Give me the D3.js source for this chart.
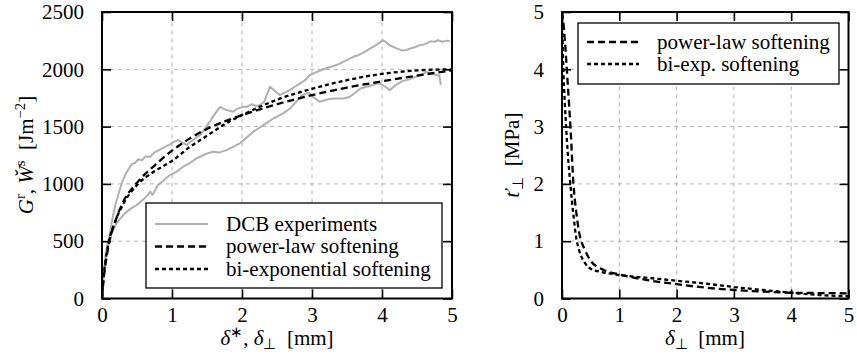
<!DOCTYPE html>
<html>
<head>
<meta charset="utf-8">
<script src="https://cdn.jsdelivr.net/npm/d3@7"></script>
<style>
  body { margin: 0; background: #fff; font-family: "Liberation Serif", serif; }
  svg { display: block; }
</style>
</head>
<body>
<svg id="chart" width="857" height="357"></svg>
<script>
// ---- data ----
var expADelta = [0,0.02,0.05,0.08,0.11,0.15,0.19,0.24,0.29,0.33,0.38,0.43,0.47,0.52,0.57,0.62,0.69,0.75,0.8,0.86,0.9,0.96,1.02,1.09,1.15,1.21,1.27,1.33,1.4,1.47,1.54,1.6,1.66,1.69,1.75,1.81,1.87,1.93,2.0,2.07,2.14,2.2,2.26,2.32,2.4,2.47,2.54,2.6,2.69,2.76,2.83,2.9,2.97,3.02,3.1,3.18,3.26,3.35,3.43,3.51,3.59,3.67,3.75,3.83,3.9,3.96,4.01,4.06,4.11,4.16,4.22,4.28,4.35,4.42,4.48,4.54,4.59,4.65,4.7,4.75,4.8,4.86,4.92,4.97];
var expAG     = [0,200,380,480,560,700,816,920,1020,1077,1130,1175,1182,1215,1205,1240,1237,1275,1290,1310,1324,1340,1365,1383,1360,1339,1370,1395,1426,1480,1543,1600,1650,1673,1650,1640,1630,1655,1670,1673,1695,1680,1688,1720,1848,1810,1775,1795,1820,1850,1877,1905,1950,1965,1985,2005,2020,2037,2060,2085,2109,2125,2150,2182,2205,2230,2255,2235,2210,2196,2180,2165,2168,2185,2195,2211,2215,2230,2245,2240,2255,2240,2250,2246];

var expBDelta = [0,0.02,0.05,0.1,0.14,0.19,0.25,0.33,0.4,0.5,0.58,0.65,0.69,0.72,0.8,0.88,0.97,1.05,1.16,1.25,1.33,1.4,1.5,1.59,1.68,1.78,1.88,1.97,2.06,2.16,2.25,2.32,2.38,2.46,2.54,2.6,2.69,2.78,2.85,2.92,2.97,3.04,3.11,3.18,3.25,3.35,3.45,3.54,3.62,3.69,3.78,3.86,3.92,3.97,4.04,4.11,4.18,4.24,4.3,4.38,4.46,4.54,4.6,4.64,4.7,4.78,4.82,4.84];
var expBG     = [0,180,330,500,570,641,690,745,780,816,860,900,932,903,990,1030,1077,1100,1150,1180,1215,1237,1265,1281,1275,1295,1325,1354,1400,1455,1490,1520,1543,1575,1601,1620,1660,1720,1770,1790,1790,1746,1717,1730,1740,1746,1745,1760,1795,1833,1848,1860,1875,1877,1850,1818,1855,1880,1900,1910,1930,1950,1965,1978,1960,1950,1945,1862];

var leftDelta = [0,0.02,0.05,0.1,0.2,0.3,0.5,0.75,1,1.25,1.5,1.75,2,2.5,3,3.5,4,4.5,5];
var powerLawG = [0,150,300,480,690,840,1010,1160,1290,1395,1480,1545,1600,1695,1775,1840,1895,1945,1990];
var biExpG    = [0,170,330,500,690,820,990,1110,1200,1320,1420,1520,1600,1735,1830,1905,1960,1990,2000];

var rightDelta  = [0,0.02,0.05,0.1,0.15,0.2,0.25,0.3,0.4,0.5,0.7,1,1.5,2,2.5,3,3.5,4,4.5,5];
var powerLawT   = [5,4.85,4.5,3.75,2.95,2.0,1.5,1.15,0.85,0.66,0.51,0.42,0.32,0.25,0.19,0.15,0.12,0.1,0.095,0.09];
var biExpT      = [5,4.1,3.4,2.55,1.95,1.45,1.05,0.84,0.62,0.52,0.46,0.41,0.36,0.31,0.26,0.2,0.15,0.1,0.06,0.04];

var xTicks = [0,1,2,3,4,5];
var leftYTicks = [0,500,1000,1500,2000,2500];
var rightYTicks = [0,1,2,3,4,5];

var leftLegend = ["DCB experiments", "power-law softening", "bi-exponential softening"];
var rightLegend = ["power-law softening", "bi-exp. softening"];

// ---- styles ----
var GRAY = "#b0b0b0";
var LONG = "7,4", SHORT = "4,3";
var FS = 21;
var FONT = "'Liberation Serif', serif";

var svg = d3.select("#chart");

function zip(xs, ys) { return xs.map(function(x, i) { return [x, ys[i]]; }); }

function panel(opt) {
  var x = d3.scaleLinear().domain([0, 5]).range([opt.x0, opt.x1]);
  var y = d3.scaleLinear().domain([0, opt.yMax]).range([298.5, 12]);
  var g = svg.append("g");

  // grid
  g.selectAll(".gx").data(xTicks.slice(1, -1)).enter().append("line")
    .attr("x1", function(d) { return x(d); }).attr("x2", function(d) { return x(d); })
    .attr("y1", y(0)).attr("y2", y(opt.yMax))
    .attr("stroke", GRAY).attr("stroke-width", 1).attr("stroke-dasharray", "4,4");
  g.selectAll(".gy").data(opt.yTicks.slice(1, -1)).enter().append("line")
    .attr("y1", function(d) { return y(d); }).attr("y2", function(d) { return y(d); })
    .attr("x1", x(0)).attr("x2", x(5))
    .attr("stroke", GRAY).attr("stroke-width", 1).attr("stroke-dasharray", "4,4");

  var clipId = "clip" + opt.id;
  svg.append("clipPath").attr("id", clipId).append("rect")
    .attr("x", x(0)).attr("y", y(opt.yMax)).attr("width", x(5) - x(0)).attr("height", y(0) - y(opt.yMax));

  var lines = g.append("g").attr("clip-path", "url(#" + clipId + ")");
  opt.series.forEach(function(s) {
    var gen = d3.line().x(function(d) { return x(d[0]); }).y(function(d) { return y(d[1]); })
      .curve(s.smooth ? d3.curveMonotoneX : d3.curveLinear);
    lines.append("path").attr("d", gen(s.data))
      .attr("fill", "none").attr("stroke", s.color).attr("stroke-width", s.width)
      .attr("stroke-dasharray", s.dash || null).attr("stroke-linejoin", "round");
  });

  // legend
  var L = opt.legend;
  g.append("rect").attr("x", L.x).attr("y", L.y).attr("width", L.w).attr("height", L.h)
    .attr("fill", "#fff").attr("stroke", "#000").attr("stroke-width", 1.3);
  L.items.forEach(function(it, i) {
    var cy = L.rowY + i * L.rowH;
    g.append("line").attr("x1", L.x + L.s0).attr("x2", L.x + L.s1).attr("y1", cy).attr("y2", cy)
      .attr("stroke", it.color).attr("stroke-width", it.width).attr("stroke-dasharray", it.dash || null);
    g.append("text").attr("x", L.x + L.tx).attr("y", cy).attr("dy", "0.33em")
      .attr("font-size", FS).text(it.label);
  });

  // axes with inward ticks on all sides
  var fmt = d3.format("d");
  var bottom = d3.axisBottom(x).tickValues(xTicks).tickFormat(fmt).tickSizeInner(-9).tickSizeOuter(0).tickPadding(9);
  var left = d3.axisLeft(y).tickValues(opt.yTicks).tickFormat(fmt).tickSizeInner(-9).tickSizeOuter(0).tickPadding(18);
  var top = d3.axisTop(x).tickValues(xTicks).tickSizeInner(-9).tickSizeOuter(0).tickFormat("");
  var right = d3.axisRight(y).tickValues(opt.yTicks).tickSizeInner(-9).tickSizeOuter(0).tickFormat("");

  [[bottom, "translate(0," + y(0) + ")"], [left, "translate(" + x(0) + ",0)"],
   [top, "translate(0," + y(opt.yMax) + ")"], [right, "translate(" + x(5) + ",0)"]].forEach(function(a) {
    var ag = g.append("g").attr("transform", a[1]).call(a[0]).attr("font-size", FS);
    ag.select(".domain").remove();
    ag.selectAll("line").attr("stroke", "#000").attr("stroke-width", 1.6);
    ag.selectAll("text").attr("fill", "#000");
  });

  g.append("rect").attr("x", x(0)).attr("y", y(opt.yMax))
    .attr("width", x(5) - x(0)).attr("height", y(0) - y(opt.yMax))
    .attr("fill", "none").attr("stroke", "#000").attr("stroke-width", 2);

  return { x: x, y: y, g: g };
}

var leftSeries = [
  { data: zip(expADelta, expAG), color: GRAY, width: 2 },
  { data: zip(expBDelta, expBG), color: GRAY, width: 2 },
  { data: zip(leftDelta, powerLawG), color: "#000", width: 2.3, dash: LONG, smooth: true },
  { data: zip(leftDelta, biExpG), color: "#000", width: 2.3, dash: SHORT, smooth: true }
];

panel({
  id: "L", x0: 102, x1: 452, yMax: 2500, yTicks: leftYTicks, series: leftSeries,
  legend: { x: 146, y: 203, w: 296, h: 85, s0: 9, s1: 62, tx: 80, rowY: 224, rowH: 22.5,
    items: [
      { label: leftLegend[0], color: GRAY, width: 2 },
      { label: leftLegend[1], color: "#000", width: 2.3, dash: LONG },
      { label: leftLegend[2], color: "#000", width: 2.3, dash: SHORT }
    ] }
});

var rightSeries = [
  { data: zip(rightDelta, powerLawT), color: "#000", width: 2.3, dash: LONG, smooth: true },
  { data: zip(rightDelta, biExpT), color: "#000", width: 2.3, dash: SHORT, smooth: true }
];

panel({
  id: "R", x0: 562, x1: 848.5, yMax: 5, yTicks: rightYTicks, series: rightSeries,
  legend: { x: 578, y: 23, w: 261, h: 61, s0: 9, s1: 61, tx: 79, rowY: 42, rowH: 22,
    items: [
      { label: rightLegend[0], color: "#000", width: 2.3, dash: LONG },
      { label: rightLegend[1], color: "#000", width: 2.3, dash: SHORT }
    ] }
});

// ---- axis titles ----
var SUP = 0.7;
function sup(t, s) {
  t.append("tspan").attr("font-size", FS * SUP).attr("dy", -8).text(s);
  return t.append("tspan").attr("dy", 8);
}
function sub(t, s) {
  t.append("tspan").attr("font-size", FS * SUP).attr("dy", 4).text(s);
  return t.append("tspan").attr("dy", -4);
}

// left x title: δ*, δ⊥ [mm]
var t1 = svg.append("text").attr("x", 277).attr("y", 345).attr("text-anchor", "middle").attr("font-size", FS);
t1.append("tspan").attr("font-style", "italic").text("δ");
sup(t1, "∗").text(", ");
t1.append("tspan").attr("font-style", "italic").text("δ");
sub(t1, "⊥").text("\u2002[mm]");

// right x title: δ⊥ [mm]
var t2 = svg.append("text").attr("x", 705).attr("y", 345).attr("text-anchor", "middle").attr("font-size", FS);
t2.append("tspan").attr("font-style", "italic").text("δ");
sub(t2, "⊥").text("\u2002[mm]");

// left y title: Gr, W̌s [Jm−2]
var t3 = svg.append("text").attr("transform", "translate(33,155) rotate(-90)")
  .attr("text-anchor", "middle").attr("font-size", FS);
t3.append("tspan").attr("font-style", "italic").text("G");
sup(t3, "r").text(", ");
t3.append("tspan").attr("font-style", "italic").text("W\u030C");
sup(t3, "s").text("\u2002[Jm");
sup(t3, "\u22122").text("]");

// right y title: ť⊥ [MPa]
var t4 = svg.append("text").attr("transform", "translate(519,155) rotate(-90)")
  .attr("text-anchor", "middle").attr("font-size", FS);
t4.append("tspan").attr("font-style", "italic").text("t\u030C");
sub(t4, "⊥").text("\u2002[MPa]");

// serif everywhere (inline style wins over d3's font-family attributes)
svg.selectAll("text").style("font-family", FONT).style("fill", "#000");
</script>
</body>
</html>
